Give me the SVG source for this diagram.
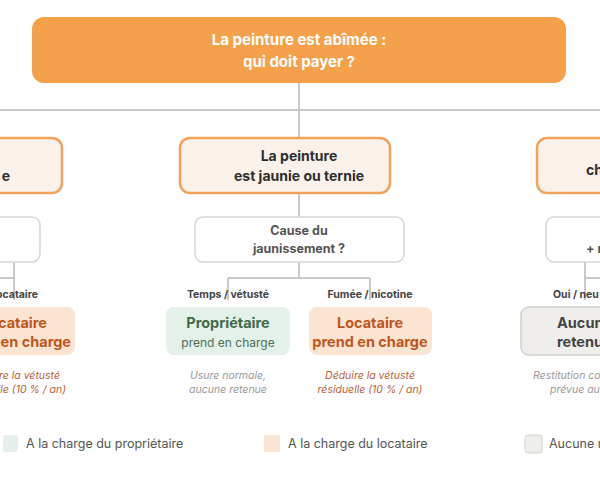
<svg xmlns="http://www.w3.org/2000/svg" width="600" height="480" viewBox="0 0 600 480">
<style>
text{font-family:Inter,"Noto Sans",sans-serif}
.b{font-weight:700}
.conn{fill:none;stroke:#C9C9C9;stroke-width:2}
.main{fill:#FAF1EA;stroke:#F0A35A;stroke-width:2.5}
.q{fill:#fff;stroke:#D6D6D6;stroke-width:1.5}
.dt{fill:#2E2E2E;font-size:14px;font-weight:700}
.qt{fill:#555;font-size:12.5px;font-weight:700}
.lbl{fill:#444;font-size:10.5px;font-weight:700}
.note{font-size:10.5px;font-style:italic}
.lg{fill:#555;font-size:12.5px}
</style>
<g id="connectors">
<path class="conn" d="M299 83V110M0 110H600M299 110V138M299 193V217M299 262V278M228 278H370M228 278V300M370 278V300"/>
<path class="conn" d="M14 262V278M0 278H14M14 278V300M585 262V278M585 278H600M585 278V300"/>
</g>
<g id="root">
<rect x="32" y="17" width="534" height="66" rx="12" fill="#F5A04B"/>
<text x="299" y="45" text-anchor="middle" fill="#fff" font-size="15" class="b">La peinture est abîmée :</text>
<text x="299" y="67" text-anchor="middle" fill="#fff" font-size="15" class="b">qui doit payer ?</text>
</g>
<g id="left-main"><rect class="main" x="-30" y="138" width="92" height="55" rx="10"/><text class="dt" x="10" y="181" text-anchor="end">e</text></g>
<g id="mid-main"><rect class="main" x="180" y="138" width="210" height="55" rx="10"/>
<text class="dt" x="299" y="161" text-anchor="middle">La peinture</text><text class="dt" x="299" y="181" text-anchor="middle">est jaunie ou ternie</text></g>
<g id="right-main"><rect class="main" x="537" y="138" width="90" height="55" rx="10"/><text class="dt" x="586" y="175">ch</text></g>
<g id="left-q"><rect class="q" x="-30" y="217" width="70" height="45" rx="8"/></g>
<g id="mid-q"><rect class="q" x="195" y="217" width="209" height="45" rx="8"/>
<text class="qt" x="299" y="235" text-anchor="middle">Cause du</text><text class="qt" x="299" y="253" text-anchor="middle">jaunissement ?</text></g>
<g id="right-q"><rect class="q" x="546" y="217" width="80" height="45" rx="8"/><text class="qt" x="586" y="253">+ r</text></g>
<g id="labels">
<text class="lbl" x="38" y="298" text-anchor="end">ocataire</text>
<text class="lbl" x="228" y="298" text-anchor="middle">Temps / vétusté</text>
<text class="lbl" x="370" y="298" text-anchor="middle">Fumée / nicotine</text>
<text class="lbl" x="553" y="298">Oui / neu</text>
</g>
<g id="left-leaf"><rect x="-30" y="307" width="105" height="48" rx="8" fill="#FCE4D2"/>
<text x="47" y="328" text-anchor="end" fill="#C0561E" font-size="14.5" class="b">cataire</text>
<text x="71" y="347" text-anchor="end" fill="#C0561E" font-size="14.5" class="b">en charge</text>
<text class="note" x="60" y="379" text-anchor="end" fill="#B5643A">re la vétusté</text>
<text class="note" x="66" y="393" text-anchor="end" fill="#B5643A">uelle (10 % / an)</text></g>
<g id="mid-leaf1"><rect x="166" y="307" width="124" height="48" rx="8" fill="#E4F1E8"/>
<text x="228" y="328" text-anchor="middle" fill="#3F6B4C" font-size="14.5" class="b">Propriétaire</text>
<text x="228" y="347" text-anchor="middle" fill="#4E6F57" font-size="12">prend en charge</text>
<text class="note" x="228" y="379" text-anchor="middle" fill="#999">Usure normale,</text>
<text class="note" x="228" y="393" text-anchor="middle" fill="#999">aucune retenue</text></g>
<g id="mid-leaf2"><rect x="309" y="307" width="123" height="48" rx="8" fill="#FCE4D2"/>
<text x="370" y="328" text-anchor="middle" fill="#C0561E" font-size="14.5" class="b">Locataire</text>
<text x="370" y="347" text-anchor="middle" fill="#C0561E" font-size="14.5" class="b">prend en charge</text>
<text class="note" x="370" y="379" text-anchor="middle" fill="#B5643A">Déduire la vétusté</text>
<text class="note" x="370" y="393" text-anchor="middle" fill="#B5643A">résiduelle (10 % / an)</text></g>
<g id="right-leaf"><rect x="521" y="307" width="100" height="48" rx="8" fill="#EFEEEA" stroke="#D0D0CC" stroke-width="1.5"/>
<text x="557" y="328" fill="#444" font-size="14.5" class="b">Aucun</text>
<text x="557" y="347" fill="#444" font-size="14.5" class="b">retenu</text>
<text class="note" x="533" y="379" fill="#999">Restitution co</text>
<text class="note" x="550" y="393" fill="#999">prévue au</text></g>
<g id="legend">
<rect x="3" y="435" width="15" height="17" rx="3" fill="#E4EEEA"/><text class="lg" x="26" y="448">A la charge du propriétaire</text>
<rect x="264" y="435" width="16" height="17" rx="2" fill="#FCE4D2"/><text class="lg" x="288" y="448">A la charge du locataire</text>
<rect x="525" y="435" width="17" height="18" rx="3" fill="#EFEEEA" stroke="#D0D0CC"/><text class="lg" x="549" y="448">Aucune r</text>
</g>
</svg>
